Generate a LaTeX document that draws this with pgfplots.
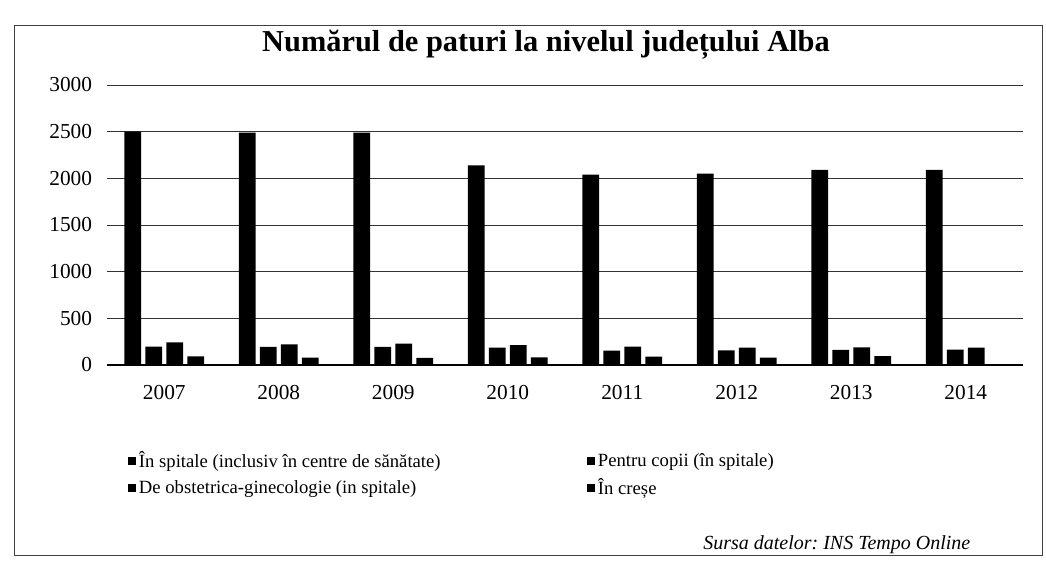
\documentclass[border=0pt]{standalone}
\usepackage{fontspec}
\setmainfont{Liberation Serif}
\usepackage{pgfplots}
\pgfplotsset{compat=1.18}
\frenchspacing
\begin{document}
\begin{tikzpicture}[x=0.75pt,y=0.75pt]
\path[use as bounding box] (0,0) rectangle (1046,577);
\draw[black!75, line width=0.6pt] (14,552) rectangle (1042,22);
\node[font=\bfseries\fontsize{22.8}{27}\selectfont] at (546,532) {Numărul de paturi la nivelul județului Alba};
\begin{axis}[
  at={(80.25pt,159pt)}, anchor=south west,
  scale only axis, width=687pt, height=210pt,
  xmin=-0.5, xmax=7.5, ymin=0, ymax=3000,
  xtick={0,...,7}, xticklabels={2007,2008,2009,2010,2011,2012,2013,2014},
  ytick={0,500,...,3000},
  axis lines*=left,
  y axis line style={draw=none},
  x axis line style={black, line width=0.8pt},
  major tick length=0pt,
  ymajorgrids,
  grid style={black!80, line width=0.6pt},
  /pgf/number format/assume math mode=true,
  /pgf/number format/1000 sep={},
  tick label style={font=\fontsize{16}{19}\selectfont},
  yticklabel style={inner sep=0pt, anchor=east, xshift=-11pt},
  xticklabel style={inner sep=0pt, anchor=north, yshift=-15pt},
  legend columns=2,
  legend cell align=left,
  legend style={at={(axis description cs:0.023,-0.30)}, anchor=north west,
    draw=none, fill=none, inner sep=0pt,
    font=\fontsize{14}{17}\selectfont, row sep=2.5pt,
    /tikz/every even column/.append style={column sep=108pt}},
  barsty/.style={ybar, fill=black, draw=none, bar width=0.145,
    legend image code/.code={\fill[black] (0pt,-3pt) rectangle (6pt,3pt);}},
]
\addplot[barsty, bar shift=-0.275] coordinates {(0,2500) (1,2490) (2,2490) (3,2140) (4,2040) (5,2050) (6,2090) (7,2090)};
\addlegendentry{În spitale (inclusiv în centre de sănătate)}
\addplot[barsty, bar shift=-0.092] coordinates {(0,196) (1,193) (2,193) (3,186) (4,154) (5,157) (6,161) (7,164)};
\addlegendentry{Pentru copii (în spitale)}
\addplot[barsty, bar shift=0.092] coordinates {(0,243) (1,221) (2,229) (3,214) (4,196) (5,186) (6,189) (7,186)};
\addlegendentry{De obstetrica-ginecologie (in spitale)}
\addplot[barsty, bar shift=0.275] coordinates {(0,93) (1,79) (2,75) (3,82) (4,89) (5,79) (6,96)};
\addlegendentry{În creșe}
\end{axis}
\node[anchor=east, font=\itshape\fontsize{15}{18}\selectfont] at (975,32) {Sursa datelor: INS Tempo Online};
\end{tikzpicture}
\end{document}
